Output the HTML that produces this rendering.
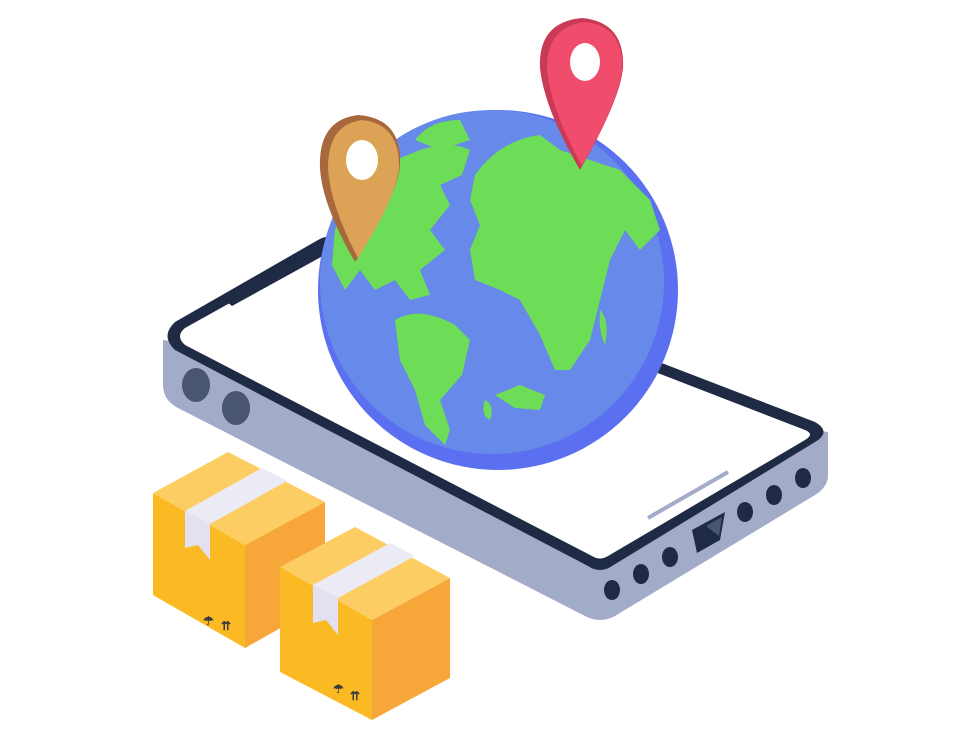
<!DOCTYPE html>
<html><head><meta charset="utf-8"><style>html,body{margin:0;padding:0;background:#fff}svg{display:block}</style></head>
<body>
<svg width="980" height="750" viewBox="0 0 980 750" xmlns="http://www.w3.org/2000/svg">
<!-- phone side -->
<path d="M163,340 L163,385 Q163,400 178,408 L585,616 Q600,624 615,616 L815,495 Q828,487 828,475 L828,432 Z" fill="#a2abc8"/>
<!-- phone screen outer -->
<path d="M175,322 L318,240 Q330,233 342,240 L815,422 Q832,432 815,442 L612,566 Q600,574 588,566 L175,350 Q160,336 175,322 Z" fill="#1f2a44"/>
<path d="M185,328 L325,250 Q332,246 340,250 L805,430 Q815,434 805,440 L608,556 Q600,561 592,556 L185,345 Q175,336 185,328 Z" fill="#ffffff"/>
<!-- notch -->
<path d="M222,298 L322,240 L330,252 L232,306 Z" fill="#1f2a44"/>
<!-- side buttons -->
<ellipse cx="196" cy="385" rx="14" ry="17" fill="#4a5570"/>
<ellipse cx="236" cy="408" rx="14" ry="17" fill="#4a5570"/>
<g fill="#1f2a44">
<ellipse cx="612" cy="590" rx="8" ry="10"/><ellipse cx="641" cy="574" rx="8" ry="10"/><ellipse cx="670" cy="557" rx="8" ry="10"/>
<ellipse cx="745" cy="512" rx="8" ry="10"/><ellipse cx="774" cy="495" rx="8" ry="10"/><ellipse cx="803" cy="478" rx="8" ry="10"/>
<path d="M692,530 L725,512 L720,540 L697,553 Z"/>
</g>
<path d="M706,526 L722,517 L719,536 Z" fill="#4a5570"/>
<line x1="648" y1="518" x2="728" y2="472" stroke="#a2abc8" stroke-width="4"/>
<!-- globe -->
<circle cx="498" cy="290" r="180" fill="#5a70f0"/>
<circle cx="492" cy="282" r="172" fill="#6789e9"/>
<g fill="#6ddd58">
<path d="M335,230 Q350,180 395,160 L420,150 Q450,140 470,150 L462,175 L440,185 L450,205 L430,230 L445,250 L420,270 L430,295 L410,300 L395,280 L375,290 L360,270 L345,290 L332,265 Z"/>
<path d="M395,320 Q420,305 455,325 L470,340 L462,375 L440,400 L450,430 L445,445 L425,425 L415,390 L400,360 Z"/>
<path d="M475,175 Q500,140 540,135 L560,150 L590,160 L620,170 L650,200 L660,230 L640,250 L625,230 L610,260 L600,300 L590,340 L570,370 L555,370 L540,335 L520,300 L500,290 L475,280 L470,250 L480,225 L470,200 Z"/>
<path d="M495,395 L520,385 L545,395 L540,410 L515,408 Z"/>
<path d="M485,400 Q495,405 490,420 Q480,415 485,400 Z"/>
<path d="M415,140 Q430,120 460,120 L470,140 L440,150 Z"/>
<path d="M600,310 Q610,320 605,345 Q598,330 600,310 Z"/>
</g>
<!-- orange pin -->
<path d="M320,168 Q318,120 358,115 Q402,118 400,165 Q398,195 355,262 Q322,205 320,168 Z" fill="#a8683d"/>
<path d="M328,168 Q328,124 362,120 Q400,124 399,168 Q396,198 358,258 Q330,205 328,168 Z" fill="#dca356"/>
<ellipse cx="362" cy="160" rx="16" ry="20" fill="#fff"/>
<!-- red pin -->
<path d="M540,68 Q538,22 582,18 Q625,22 623,68 Q620,100 580,170 Q544,108 540,68 Z" fill="#c83a55"/>
<path d="M547,68 Q547,26 586,22 Q624,27 622,70 Q618,102 582,166 Q550,108 547,68 Z" fill="#f04c6c"/>
<ellipse cx="585" cy="62" rx="15" ry="19" fill="#fff"/>
<!-- box 1 -->
<path d="M153,493 L245,545 L245,648 L153,595 Z" fill="#fbb924"/>
<path d="M245,545 L325,502 L325,603 L245,648 Z" fill="#f7a73a"/>
<path d="M153,493 L228,452 L325,502 L245,545 Z" fill="#fccd62"/>
<path d="M185,511 L262,468 L287,481 L210,524 Z" fill="#ecebf5"/>
<path d="M185,511 L210,524 L210,560 L198,545 L185,548 Z" fill="#e2e1ef"/>
<!-- box 2 -->
<path d="M280,567 L372,620 L372,720 L280,672 Z" fill="#fbb924"/>
<path d="M372,620 L450,578 L450,678 L372,720 Z" fill="#f7a73a"/>
<path d="M280,567 L355,527 L450,578 L372,620 Z" fill="#fccd62"/>
<path d="M313,585 L390,543 L415,556 L338,598 Z" fill="#ecebf5"/>
<path d="M313,585 L338,598 L338,635 L326,620 L313,623 Z" fill="#e2e1ef"/>
<g fill="#3a3a3a" font-family="Liberation Sans, sans-serif" font-size="12" font-weight="bold">
<text x="203" y="625">☂</text><text x="221" y="630">⇈</text>
<text x="333" y="693">☂</text><text x="350" y="700">⇈</text>
</g>
</svg>
</body></html>
